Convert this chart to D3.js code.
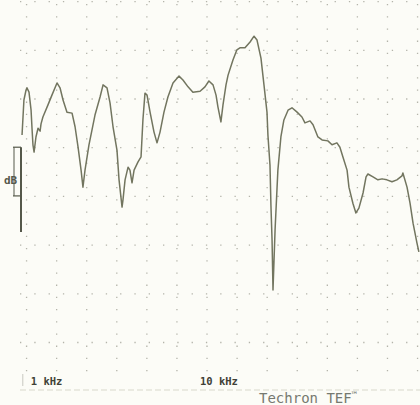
<!DOCTYPE html>
<html>
<head>
<meta charset="utf-8">
<script src="https://cdn.jsdelivr.net/npm/d3@7"></script>
<style>
  html, body { margin: 0; padding: 0; background: #fcfcf7; }
  svg { display: block; }
</style>
</head>
<body>
<svg id="chart" width="420" height="405"></svg>
<script>
// Frequency (kHz, linear axis) and level (dB)
const freqKHz = [0.96,1.06,1.17,1.22,1.33,1.44,1.49,1.54,1.60,1.70,1.81,1.92,1.97,2.07,2.34,2.55,2.82,2.98,3.14,3.35,
  3.62,3.78,3.94,4.10,4.20,4.31,4.52,4.84,5.11,5.27,5.48,5.64,5.80,6.01,6.12,6.28,6.33,6.44,6.60,6.70,
  6.81,6.92,7.13,7.29,7.39,7.50,7.61,7.77,7.98,8.14,8.30,8.51,8.72,8.99,9.31,9.52,9.79,10.05,10.43,10.69,
  10.90,11.12,11.28,11.38,11.54,11.65,11.81,11.92,12.18,12.39,12.55,12.82,13.09,13.30,13.46,13.67,13.83,13.99,14.04,14.15,
  14.20,14.26,14.31,14.42,14.52,14.57,14.73,14.89,15.11,15.32,15.59,15.85,16.01,16.28,16.44,16.70,16.92,17.23,17.45,17.71,
  17.87,18.03,18.25,18.35,18.56,18.72,18.88,19.10,19.26,19.36,19.63,19.89,20.11,20.37,20.64,20.90,21.17,21.22,21.44,21.60,
  21.76,21.97,22.07];
const levelDB = [-7.4,-0.2,1.8,2.3,1.4,-2.3,-6.0,-9.4,-10.9,-7.8,-6.0,-6.6,-5.1,-3.7,-1.2,0.8,3.3,2.3,-0.2,-2.7,
  -2.9,-5.7,-9.9,-14.6,-18.1,-14.6,-9.4,-3.3,0.4,2.9,2.3,-0.8,-5.7,-10.5,-16.6,-22.2,-20.7,-16.6,-14.0,-14.6,
  -17.2,-14.6,-12.9,-11.9,-4.3,1.2,0.8,-2.7,-6.8,-9.0,-6.8,-2.7,0.4,3.3,4.7,3.9,2.5,1.4,1.6,2.5,
  3.7,2.9,0.8,-1.6,-4.7,-1.2,2.9,4.9,8.0,10.1,10.5,10.5,11.7,12.9,12.1,8.4,2.9,-2.7,-7.4,-13.6,
  -21.8,-29.0,-39.2,-26.9,-18.7,-14.6,-7.8,-4.3,-2.3,-1.8,-2.7,-3.7,-4.9,-4.5,-5.3,-7.8,-8.4,-8.6,-9.4,-9.0,
  -9.9,-11.9,-14.6,-18.1,-21.4,-23.4,-22.4,-19.3,-16.0,-15.4,-16.0,-16.6,-16.4,-16.6,-17.0,-16.6,-15.8,-15.2,-18.1,-21.4,
  -25.5,-29.6,-31.4];
const tickLabels = [{f: 1, text: "1 kHz"}, {f: 10, text: "10 kHz"}];
const gridFreqs = d3.range(1.2, 22.1, 1.6);
const gridDB = [20, 10, 0, -10, -20, -30, -40, -50];
const brand = "Techron TEF";

const svg = d3.select("#chart");
const x = d3.scaleLinear().domain([0, 22.13]).range([4, 420]);
const y = d3.scaleLinear().domain([-50, 20]).range([342.5, 1.6]);

const gridColor = "#b4b4aa";
// vertical dotted grid
svg.append("g").selectAll("line").data(gridFreqs).join("line")
  .attr("x1", d => x(d)).attr("x2", d => x(d))
  .attr("y1", 4).attr("y2", 372)
  .attr("stroke", gridColor).attr("stroke-width", 1.3)
  .attr("stroke-dasharray", "1.3 10.9");
// horizontal dotted grid
svg.append("g").selectAll("line").data(gridDB).join("line")
  .attr("x1", 20).attr("x2", 420)
  .attr("y1", d => y(d)).attr("y2", d => y(d))
  .attr("stroke", gridColor).attr("stroke-width", 1.3)
  .attr("stroke-dasharray", "1.3 13");

// left dB scale bar
const sb = svg.append("g").attr("stroke", "#55584a");
sb.append("line").attr("x1", 21).attr("x2", 21).attr("y1", y(-9.9)).attr("y2", y(-27.3)).attr("stroke-width", 2);
sb.append("line").attr("x1", 13).attr("x2", 21).attr("y1", y(-9.9)).attr("y2", y(-9.9)).attr("stroke-width", 1.2);
sb.append("line").attr("x1", 13).attr("x2", 21).attr("y1", y(-19.9)).attr("y2", y(-19.9)).attr("stroke-width", 1.2);
sb.append("line").attr("x1", 14).attr("x2", 14).attr("y1", y(-9.9)).attr("y2", y(-19.9)).attr("stroke-width", 1);
svg.append("text").attr("x", 4).attr("y", 184)
  .attr("font-family", "DejaVu Sans Mono").attr("font-size", 11).attr("font-weight", "bold")
  .attr("fill", "#55584a").text("dB");

// trace
const pts = freqKHz.map((f, i) => [f, levelDB[i]]);
const line = d3.line().x(d => x(d[0])).y(d => y(d[1])).curve(d3.curveLinear);
svg.append("path").datum(pts).attr("d", line)
  .attr("fill", "none").attr("stroke", "#72755f").attr("stroke-width", 1.5)
  .attr("stroke-linejoin", "round");

// bottom axis labels
svg.append("line").attr("x1", x(1)).attr("x2", x(1)).attr("y1", 374).attr("y2", 386)
  .attr("stroke", "#c8c8c0").attr("stroke-width", 1);
svg.append("g").selectAll("text").data(tickLabels).join("text")
  .attr("x", d => x(d.f) + 8).attr("y", 385)
  .attr("font-family", "DejaVu Sans Mono").attr("font-size", 10.5).attr("font-weight", "bold")
  .attr("fill", "#3f4136").text(d => d.text);
svg.append("line").attr("x1", 20).attr("x2", 420).attr("y1", 390).attr("y2", 390)
  .attr("stroke", "#d8d8cc").attr("stroke-width", 1.2).attr("stroke-dasharray", "6 3");
const bt = svg.append("text").attr("x", 259).attr("y", 403)
  .attr("font-family", "DejaVu Sans Mono").attr("font-size", 14)
  .attr("fill", "#767970").text(brand);
bt.append("tspan").attr("dy", -5).attr("font-size", 9).text("™");
</script>
</body>
</html>
